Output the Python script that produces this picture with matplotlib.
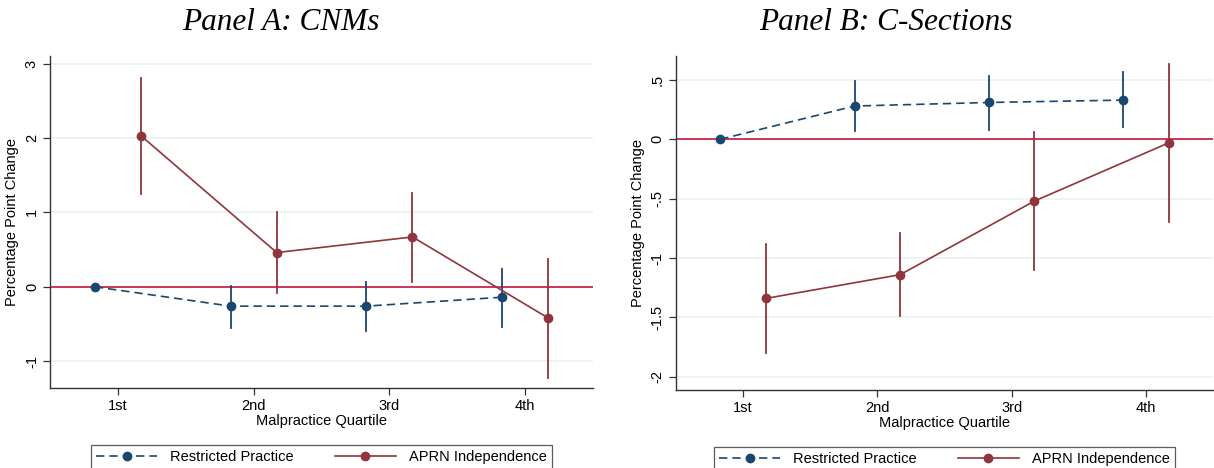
import matplotlib
matplotlib.use('Agg')
import matplotlib.pyplot as plt
import numpy as np

plt.rcParams['font.family'] = ['Liberation Sans', 'DejaVu Sans']

# quartile labels
quartiles = ['1st', '2nd', '3rd', '4th']

# panel A: CNMs
a_rp = [0.0, -0.26, -0.26, -0.14]
a_rp_lo = [0.0, -0.55, -0.59, -0.54]
a_rp_hi = [0.0, 0.01, 0.06, 0.24]
a_ind = [2.03, 0.46, 0.67, -0.42]
a_ind_lo = [1.25, -0.08, 0.07, -1.22]
a_ind_hi = [2.80, 1.00, 1.26, 0.38]

# panel B: C-sections
b_rp = [0.0, 0.28, 0.31, 0.33]
b_rp_lo = [0.0, 0.07, 0.08, 0.10]
b_rp_hi = [0.0, 0.49, 0.53, 0.57]
b_ind = [-1.34, -1.14, -0.52, -0.03]
b_ind_lo = [-1.80, -1.49, -1.10, -0.70]
b_ind_hi = [-0.88, -0.79, 0.06, 0.63]

blue = '#1a476f'
red = '#90353b'
zero_col = '#c8173f'

fig = plt.figure(figsize=(12.14, 4.68), dpi=100)
axA = fig.add_axes([0.0412, 0.171, 0.4473, 0.709])
axB = fig.add_axes([0.5568, 0.167, 0.4424, 0.713])


def draw(ax, rp, rp_lo, rp_hi, ind, ind_lo, ind_hi, ylim, yticks, yticklabels):
    x = np.arange(1, 5)
    xb = x - 0.17
    xr = x + 0.17
    for ys in yticks:
        ax.axhline(ys, color='#eaf2f3', lw=1.2, zorder=0)
    ax.axhline(0, color=zero_col, lw=1.2, zorder=1)
    # confidence intervals (skip the reference quartile with no CI)
    for i in range(4):
        if rp_hi[i] != rp_lo[i]:
            ax.plot([xb[i], xb[i]], [rp_lo[i], rp_hi[i]], color=blue, lw=1.3, zorder=2)
        ax.plot([xr[i], xr[i]], [ind_lo[i], ind_hi[i]], color=red, lw=1.3, zorder=2)
    ax.plot(xb, rp, color=blue, ls=(0, (5, 3)), lw=1.2, marker='o', ms=6,
            label='Restricted Practice', zorder=3)
    ax.plot(xr, ind, color=red, ls='-', lw=1.2, marker='o', ms=6,
            label='APRN Independence', zorder=3)
    ax.set_xlim(0.5, 4.5)
    ax.set_ylim(*ylim)
    ax.set_xticks(x)
    ax.set_xticklabels(quartiles, fontsize=10.5)
    ax.set_yticks(yticks)
    ax.set_yticklabels(yticklabels, fontsize=10.5, rotation=90, va='center')
    ax.set_xlabel('Malpractice Quartile', fontsize=10.5, labelpad=1)
    ax.set_ylabel('Percentage Point Change', fontsize=10.5, labelpad=4)
    for s in ['top', 'right']:
        ax.spines[s].set_visible(False)
    for s in ['left', 'bottom']:
        ax.spines[s].set_color('#333333')
        ax.spines[s].set_linewidth(1.0)
    ax.tick_params(length=5, width=0.9, color='#333333', pad=3)
    leg = ax.legend(loc='upper center', bbox_to_anchor=(0.5, -0.15), ncol=2,
                    fontsize=10.5, frameon=True, fancybox=False, handlelength=4.2,
                    columnspacing=2.8, borderpad=0.35, handletextpad=0.9)
    leg.get_frame().set_edgecolor('#333333')
    leg.get_frame().set_linewidth(0.9)


draw(axA, a_rp, a_rp_lo, a_rp_hi, a_ind, a_ind_lo, a_ind_hi,
     (-1.36, 3.1), [-1, 0, 1, 2, 3], ['-1', '0', '1', '2', '3'])
draw(axB, b_rp, b_rp_lo, b_rp_hi, b_ind, b_ind_lo, b_ind_hi,
     (-2.11, 0.7), [-2, -1.5, -1, -0.5, 0, 0.5], ['-2', '-1.5', '-1', '-.5', '0', '.5'])

fig.text(0.231, 0.952, 'Panel A: CNMs', fontsize=22.5, style='italic',
         family='Liberation Serif', ha='center', va='center')
fig.text(0.730, 0.952, 'Panel B: C-Sections', fontsize=22.5, style='italic',
         family='Liberation Serif', ha='center', va='center')

fig.savefig('out.png', dpi=100)
